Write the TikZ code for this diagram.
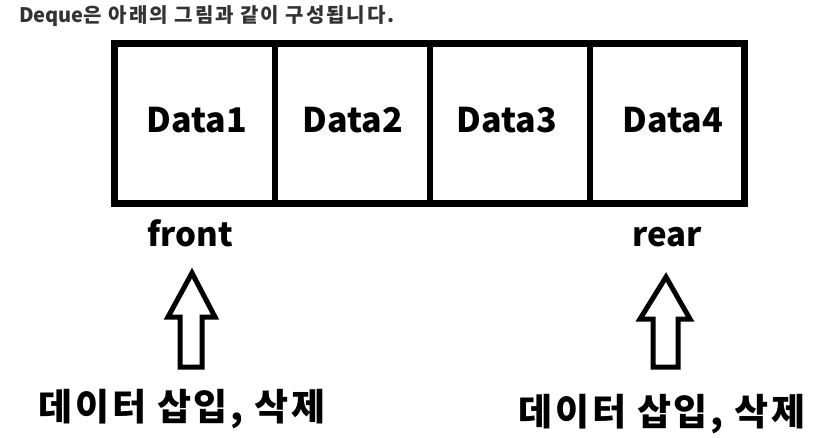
\documentclass[tikz,border=0pt]{standalone}
\usepackage{fontspec}
\setmainfont{Noto Sans CJK KR}
\definecolor{titlegray}{HTML}{333333}
\tikzset{
  cellline/.style={line width=6.5pt, draw=black},
  datalbl/.style={font=\fontsize{34}{40}\selectfont\bfseries, anchor=base, inner sep=0pt},
  endlbl/.style={font=\fontsize{33}{38}\selectfont\bfseries, anchor=base, inner sep=0pt},
  korlbl/.style={font=\fontsize{37}{44}\selectfont\bfseries\addfontfeatures{LetterSpace=7}, anchor=base, inner sep=0pt},
  blockarrow/.style={line width=5pt, draw=black, fill=white, miter limit=10},
}
\begin{document}
\begin{tikzpicture}[x=1pt,y=-1pt]
\useasboundingbox (0,0) rectangle (832,438);
\fill[white] (0,0) rectangle (832,438);
% title
\node[anchor=base west, inner sep=0pt, text=titlegray, font=\fontsize{20}{24}\selectfont\bfseries] (title) at (19,23) {Deque{\addfontfeatures{LetterSpace=10}은 아래의 그림과 같이 구성됩니다.}};
% deque box
\coordinate (bl) at (114.5,43.5);
\coordinate (tr) at (744.5,203.5);
\draw[cellline] (bl) rectangle (tr);
\coordinate (d1t) at (275,43.5); \coordinate (d1b) at (275,203.5);
\coordinate (d2t) at (430,43.5); \coordinate (d2b) at (430,203.5);
\coordinate (d3t) at (590,43.5); \coordinate (d3b) at (590,203.5);
\draw[line width=6pt] (d1t) -- (d1b);
\draw[line width=6pt] (d2t) -- (d2b);
\draw[line width=6pt] (d3t) -- (d3b);
\node[datalbl] (data1) at (197,133) {Data1};
\node[datalbl] (data2) at (353,133) {Data2};
\node[datalbl] (data3) at (507,133) {Data3};
\node[datalbl] (data4) at (673,133) {Data4};
% labels
\node[endlbl] (front) at (190,247) {front};
\node[endlbl] (rear) at (667,247) {rear};
% left arrow
\coordinate (la1) at (192,273);
\coordinate (la2) at (215,317);
\coordinate (la3) at (202,317);
\coordinate (la4) at (202,367);
\coordinate (la5) at (180,367);
\coordinate (la6) at (180,317);
\coordinate (la7) at (168,317);
\draw[blockarrow] (la1) -- (la2) -- (la3) -- (la4) -- (la5) -- (la6) -- (la7) -- cycle;
% right arrow
\coordinate (ra1) at (666,277);
\coordinate (ra2) at (690,319);
\coordinate (ra3) at (678,319);
\coordinate (ra4) at (678,367);
\coordinate (ra5) at (653,367);
\coordinate (ra6) at (653,319);
\coordinate (ra7) at (640,319);
\draw[blockarrow] (ra1) -- (ra2) -- (ra3) -- (ra4) -- (ra5) -- (ra6) -- (ra7) -- cycle;
% korean labels
\node[korlbl] (kleft) at (182,420) {데이터 삽입, 삭제};
\node[korlbl] (kright) at (662,425) {데이터 삽입, 삭제};
\end{tikzpicture}
\end{document}
